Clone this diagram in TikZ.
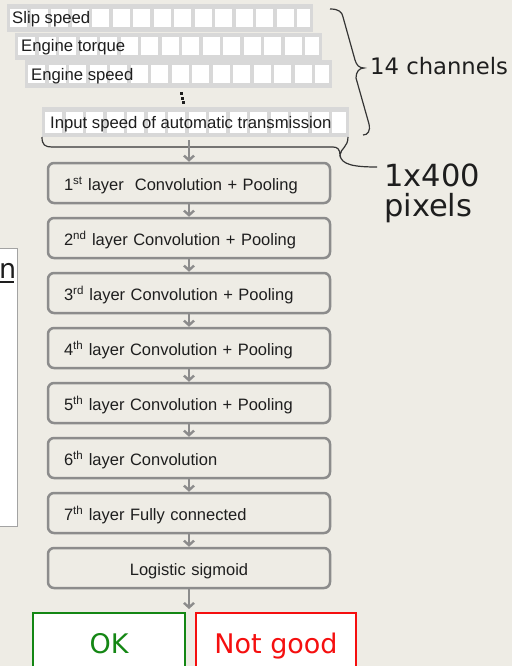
\documentclass[tikz,border=0pt]{standalone}
\usepackage{fontspec}
\setmainfont{Liberation Sans}
\newfontfamily\bigfont{DejaVu Sans}
\usetikzlibrary{arrows.meta}
\definecolor{bg}{RGB}{238,236,229}
\definecolor{band}{RGB}{216,216,216}
\definecolor{boxgrey}{RGB}{140,140,140}
\definecolor{okgreen}{RGB}{20,135,20}
\definecolor{ngred}{RGB}{245,15,15}
\definecolor{ink}{RGB}{30,30,30}
\newcommand\cellrow[4]{%
  \fill[band] (#1,#3) rectangle (#2,#4);
  \foreach \i in {0,...,15}{
    \pgfmathsetmacro\xa{#1+3+\i*20.5}
    \pgfmathsetmacro\xb{min(\xa+17,#2-3.5)}
    \pgfmathtruncatemacro\okcell{\xa<#2-6 ? 1 : 0}
    \ifnum\okcell=1 \fill[white] (\xa,#3+4.5) rectangle (\xb,#4-4.5);\fi
  }}
\begin{document}
\begin{tikzpicture}[x=1pt,y=-1pt,
  layerbox/.style={draw=boxgrey, line width=2.5pt, rounded corners=6pt,
    minimum height=40pt, text width=250pt, inner xsep=16pt, inner ysep=0pt,
    text height=15pt, text depth=0pt, align=left,
    font=\fontsize{16.5pt}{19pt}\selectfont, text=ink},
  flowarrow/.style={draw=boxgrey, line width=2.4pt, -{Straight Barb[length=4.5pt,width=10pt]}},
  chtext/.style={font=\fontsize{16.7pt}{19pt}\selectfont, inner sep=0pt, anchor=base west, text=ink},
  braceline/.style={draw=ink!90, line width=1.2pt},
  verdict/.style={fill=white, line width=2.5pt, minimum height=66pt, text height=20pt,
    text depth=6pt, inner sep=0pt, font=\bigfont\fontsize{27pt}{30pt}\selectfont}
]
\useasboundingbox (0,0) rectangle (512,666);
\clip (0,0) rectangle (512,666);
\fill[bg] (0,0) rectangle (512,666);

% partial box on the left
\draw[fill=white, draw=boxgrey!80, line width=0.8pt] (-2,248) rectangle (17,526);
\node[font=\bigfont\fontsize{27pt}{30pt}\selectfont, inner sep=0pt, anchor=base west, text=ink] (ncut) at (-1,278) {n};
\draw[ink, line width=1.6pt] (0,282) -- (14,282);

% channel rows
\cellrow{7}{313}{4.5}{32}
\cellrow{15}{322}{33}{60}
\cellrow{25}{332}{60.5}{88}
\cellrow{42}{349}{107.5}{137}
\node[chtext] (slip) at (12,23.3) {Slip speed};
\node[chtext] (torque) at (21,51.5) {Engine torque};
\node[chtext] (espeed) at (31,80.5) {Engine speed};
\node[chtext] (inspeed) at (50,128.3) {Input speed of automatic transmission};
\fill[ink] (179.5,92.5) rectangle ++(3,3);
\fill[ink] (180.5,97) rectangle ++(3,3);
\fill[ink] (181.5,101.5) rectangle ++(3,3);

% braces
\draw[braceline] (330,9) .. controls (339,9) and (342,12) .. (343,17) -- (355,60)
  .. controls (356.5,65) and (359,68) .. (364,68)
  .. controls (359,68) and (356,72) .. (356,78) -- (369,124)
  .. controls (370.5,131) and (368,135) .. (363,135);
\node[font=\bigfont\fontsize{22.7pt}{26pt}\selectfont, inner sep=0pt, anchor=base west, text=ink] (chan) at (370,75) {14 channels};

\coordinate (btip) at (340,155);
\draw[braceline] (42,137) .. controls (42,145) and (45,147) .. (52,147) -- (333,147)
  .. controls (337,147) and (340,149) .. (btip)
  .. controls (341,148) and (348,147) .. (348,137);
\node[font=\bigfont\fontsize{30.5pt}{30pt}\selectfont, inner sep=0pt, anchor=base west, text=ink] (pixa) at (384,186) {1x400};
\node[font=\bigfont\fontsize{30.5pt}{30pt}\selectfont, inner sep=0pt, anchor=base west, text=ink] (pixb) at (384,216) {pixels};
\coordinate (cend) at (377,167);
\draw[braceline] (btip) .. controls (341,165) and (355,167) .. (cend);

% layer boxes
\node[layerbox] (box1) at (189,183) {1\textsuperscript{st} layer\ \ Convolution + Pooling};
\node[layerbox] (box2) at (189,238) {2\textsuperscript{nd} layer Convolution + Pooling};
\node[layerbox] (box3) at (189,293) {3\textsuperscript{rd} layer Convolution + Pooling};
\node[layerbox] (box4) at (189,348) {4\textsuperscript{th} layer Convolution + Pooling};
\node[layerbox] (box5) at (189,403) {5\textsuperscript{th} layer Convolution + Pooling};
\node[layerbox] (box6) at (189,458) {6\textsuperscript{th} layer Convolution};
\node[layerbox] (box7) at (189,513) {7\textsuperscript{th} layer Fully connected};
\node[layerbox, align=center] (box8) at (189,568) {Logistic sigmoid};

\coordinate (inbottom) at (189,140);
\draw[flowarrow] (inbottom) -- (box1.north);
\foreach \i/\j in {1/2,2/3,3/4,4/5,5/6,6/7,7/8}
  \draw[flowarrow] (box\i.south) -- (box\j.north);
\coordinate (sigend) at (189,609);
\draw[flowarrow] (box8.south) -- (sigend);

% verdicts
\node[verdict, draw=okgreen, text=okgreen, minimum width=152pt] (ok) at (109,646) {OK};
\node[verdict, draw=ngred, text=ngred, minimum width=160pt] (notgood) at (276,646) {Not good};
\end{tikzpicture}
\end{document}
